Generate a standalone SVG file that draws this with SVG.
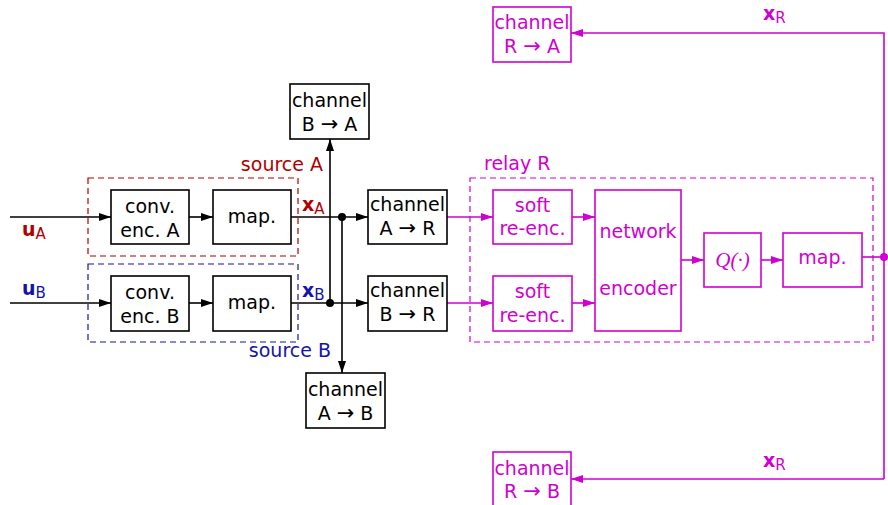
<svg xmlns="http://www.w3.org/2000/svg" width="888" height="505" viewBox="0 0 888 505">
  <style>
    text { font-family: "DejaVu Sans", "Noto Sans", sans-serif; font-size: 19px; text-anchor: middle; }
    .blk rect { fill: #fff; stroke: #000; stroke-width: 1.6; }
    .blk text { fill: #000; }
    .mag rect { fill: #fff; stroke: #d000d0; stroke-width: 1.6; }
    .mag text { fill: #d000d0; }
    .wire { fill: none; stroke: #000; stroke-width: 1.6; }
    .mwire { fill: none; stroke: #d000d0; stroke-width: 1.6; }
    .frame { fill: none; stroke-width: 1.2; stroke-dasharray: 6 4; }
    .lbl { text-anchor: start; }
    .bold { font-weight: bold; }
    .sub { font-size: 15px; }
    .arw { font-size: 21px; }
    .red { fill: #b00000; }
    .blue { fill: #1414a8; }
    .magt { fill: #d000d0; }
  </style>
  <defs>
    <marker id="arr" markerWidth="12" markerHeight="8" refX="12" refY="4" orient="auto" markerUnits="userSpaceOnUse">
      <path d="M0,0 L12,4 L0,8 Z" fill="#000"/>
    </marker>
    <marker id="marr" markerWidth="12" markerHeight="8" refX="12" refY="4" orient="auto" markerUnits="userSpaceOnUse">
      <path d="M0,0 L12,4 L0,8 Z" fill="#d000d0"/>
    </marker>
  </defs>

  <!-- dashed frames: sources and relay -->
  <g id="frames">
    <rect class="frame" x="88" y="178" width="210" height="78" stroke="#b00000"/>
    <rect class="frame" x="88" y="264" width="210" height="78" stroke="#1414a8"/>
    <rect class="frame" x="470" y="178" width="403" height="164" stroke="#d000d0"/>
    <text class="red" x="323" y="171" style="text-anchor:end">source A</text>
    <text class="blue" x="331" y="357" style="text-anchor:end">source B</text>
    <text class="magt lbl" x="484" y="170">relay R</text>
  </g>

  <!-- connectors -->
  <g id="connectors">
    <line class="wire" x1="10" y1="217" x2="111" y2="217" marker-end="url(#arr)"/>
    <line class="wire" x1="189" y1="217" x2="213" y2="217" marker-end="url(#arr)"/>
    <line class="wire" x1="10" y1="303" x2="111" y2="303" marker-end="url(#arr)"/>
    <line class="wire" x1="189" y1="303" x2="213" y2="303" marker-end="url(#arr)"/>
    <line class="wire" x1="291" y1="217" x2="368" y2="217" marker-end="url(#arr)"/>
    <line class="wire" x1="291" y1="303" x2="368" y2="303" marker-end="url(#arr)"/>
    <line class="wire" x1="330" y1="303" x2="330" y2="139" marker-end="url(#arr)"/>
    <line class="wire" x1="342" y1="217" x2="342" y2="373" marker-end="url(#arr)"/>
    <circle cx="342" cy="217" r="4" fill="#000"/>
    <circle cx="330" cy="303" r="4" fill="#000"/>

    <line class="mwire" x1="447" y1="217" x2="493" y2="217" marker-end="url(#marr)"/>
    <line class="mwire" x1="447" y1="303" x2="493" y2="303" marker-end="url(#marr)"/>
    <line class="mwire" x1="572" y1="217" x2="595" y2="217" marker-end="url(#marr)"/>
    <line class="mwire" x1="572" y1="303" x2="595" y2="303" marker-end="url(#marr)"/>
    <line class="mwire" x1="681" y1="260" x2="704" y2="260" marker-end="url(#marr)"/>
    <line class="mwire" x1="761" y1="260" x2="783" y2="260" marker-end="url(#marr)"/>
    <line class="mwire" x1="862" y1="257" x2="884" y2="257"/>
    <circle cx="884" cy="257" r="4" fill="#d000d0"/>
    <polyline class="mwire" points="884,479 884,33 571,33" marker-end="url(#marr)"/>
    <line class="mwire" x1="884" y1="479" x2="571" y2="479" marker-end="url(#marr)"/>

    <!-- signal labels -->
    <text class="red lbl" x="22" y="236"><tspan class="bold">u</tspan><tspan class="sub" dy="3">A</tspan></text>
    <text class="blue lbl" x="22" y="295"><tspan class="bold">u</tspan><tspan class="sub" dy="3">B</tspan></text>
    <text class="red lbl" x="302" y="211"><tspan class="bold">x</tspan><tspan class="sub" dy="3">A</tspan></text>
    <text class="blue lbl" x="302" y="297"><tspan class="bold">x</tspan><tspan class="sub" dy="3">B</tspan></text>
    <text class="magt lbl" x="763" y="20"><tspan class="bold">x</tspan><tspan class="sub" dy="3">R</tspan></text>
    <text class="magt lbl" x="763" y="467"><tspan class="bold">x</tspan><tspan class="sub" dy="3">R</tspan></text>
  </g>

  <!-- source A -->
  <g id="convA" class="blk">
    <rect x="111" y="190" width="78" height="54"/>
    <text x="150" y="213">conv.</text>
    <text x="150" y="237">enc. A</text>
  </g>
  <g id="mapA" class="blk">
    <rect x="213" y="190" width="78" height="54"/>
    <text x="252" y="223">map.</text>
  </g>

  <!-- source B -->
  <g id="convB" class="blk">
    <rect x="111" y="276" width="78" height="55"/>
    <text x="150" y="299">conv.</text>
    <text x="150" y="323">enc. B</text>
  </g>
  <g id="mapB" class="blk">
    <rect x="213" y="276" width="78" height="55"/>
    <text x="252" y="309">map.</text>
  </g>

  <!-- channels -->
  <g id="chBA" class="blk">
    <rect x="290" y="84" width="79" height="55"/>
    <text x="329.5" y="107">channel</text>
    <text x="329.5" y="131">B <tspan class="arw">→</tspan> A</text>
  </g>
  <g id="chAB" class="blk">
    <rect x="306" y="373" width="79" height="55"/>
    <text x="345.5" y="396">channel</text>
    <text x="345.5" y="420">A <tspan class="arw">→</tspan> B</text>
  </g>
  <g id="chAR" class="blk">
    <rect x="368" y="190" width="79" height="54"/>
    <text x="407.5" y="211">channel</text>
    <text x="407.5" y="235">A <tspan class="arw">→</tspan> R</text>
  </g>
  <g id="chBR" class="blk">
    <rect x="368" y="276" width="79" height="55"/>
    <text x="407.5" y="297">channel</text>
    <text x="407.5" y="321">B <tspan class="arw">→</tspan> R</text>
  </g>

  <!-- relay -->
  <g id="softA" class="mag">
    <rect x="493" y="190" width="79" height="54"/>
    <text x="532.5" y="212">soft</text>
    <text x="532.5" y="235">re-enc.</text>
  </g>
  <g id="softB" class="mag">
    <rect x="493" y="276" width="79" height="55"/>
    <text x="532.5" y="298">soft</text>
    <text x="532.5" y="322">re-enc.</text>
  </g>
  <g id="netenc" class="mag">
    <rect x="595" y="190" width="86" height="141"/>
    <text x="638" y="238">network</text>
    <text x="638" y="295">encoder</text>
  </g>
  <g id="quant" class="mag">
    <rect x="704" y="233" width="57" height="54"/>
    <text x="732.5" y="267" style="font-family:'Liberation Serif',serif;font-style:italic;font-size:21px">Q(·)</text>
  </g>
  <g id="mapR" class="mag">
    <rect x="783" y="233" width="79" height="54"/>
    <text x="822.5" y="264">map.</text>
  </g>
  <g id="chRA" class="mag">
    <rect x="493" y="7" width="78" height="55"/>
    <text x="532" y="29">channel</text>
    <text x="532" y="53">R <tspan class="arw">→</tspan> A</text>
  </g>
  <g id="chRB" class="mag">
    <rect x="493" y="452" width="78" height="60"/>
    <text x="532" y="475">channel</text>
    <text x="532" y="498">R <tspan class="arw">→</tspan> B</text>
  </g>
</svg>
